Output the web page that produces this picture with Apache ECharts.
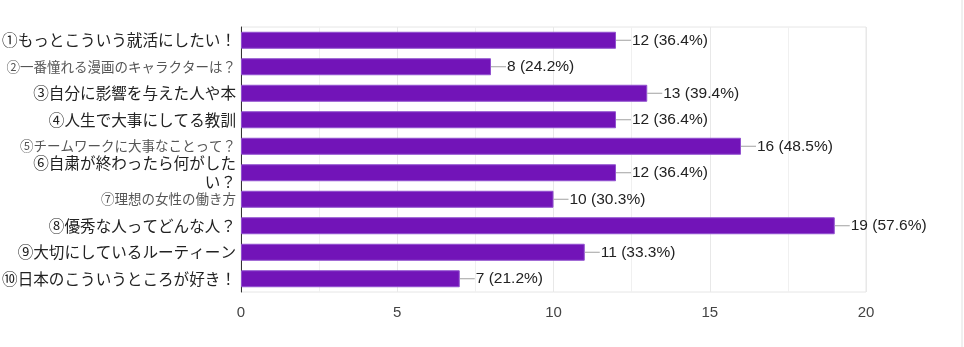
<!DOCTYPE html>
<html><head><meta charset="utf-8">
<script src="https://cdn.jsdelivr.net/npm/echarts@6/dist/echarts.min.js"></script>
<style>html,body{margin:0;padding:0;background:#fff}#c{width:964px;height:347px}</style>
</head><body><div id="c"></div>
<script>
var categories = [
  '①もっとこういう就活にしたい！',
  '②一番憧れる漫画のキャラクターは？',
  '③自分に影響を与えた人や本',
  '④人生で大事にしてる教訓',
  '⑤チームワークに大事なことって？',
  '⑥自粛が終わったら何がしたい？',
  '⑦理想の女性の働き方',
  '⑧優秀な人ってどんな人？',
  '⑨大切にしているルーティーン',
  '⑩日本のこういうところが好き！'
];
var counts = [12, 8, 13, 12, 16, 12, 10, 19, 11, 7];
var percents = ['36.4', '24.2', '39.4', '36.4', '48.5', '36.4', '30.3', '57.6', '33.3', '21.2'];
var smallLabels = [1, 4, 6];
var xTicks = [0, 5, 10, 15, 20];

var chart = echarts.init(document.getElementById('c'));
var FONT = '"Noto Sans CJK JP", "Noto Sans", sans-serif';
var LAT = '"Liberation Sans", Arial, sans-serif';
chart.setOption({
  animation: false,
  textStyle: {fontFamily: FONT},
  grid: {left: 241, right: 98, top: 27, bottom: 55, show: true, borderColor: '#e6e6e6', borderWidth: 1,
         outerBoundsMode: 'none', containLabel: false},
  xAxis: {
    type: 'value', min: xTicks[0], max: xTicks[xTicks.length - 1], interval: 5,
    axisLine: {show: false}, axisTick: {show: false},
    axisLabel: {color: '#444', fontSize: 15, margin: 13, fontFamily: LAT},
    splitLine: {lineStyle: {color: '#e8e8e8'}},
    minorTick: {show: false, splitNumber: 2},
    minorSplitLine: {show: true, lineStyle: {color: '#f0f0f0'}}
  },
  yAxis: {
    type: 'category', inverse: true, data: categories,
    axisLine: {show: true, lineStyle: {color: '#333', width: 1}},
    axisTick: {show: false},
    axisLabel: {
      margin: 5,
      formatter: function (v, i) {
        if (smallLabels.indexOf(i) >= 0) return '{s|' + v + '}';
        if (i === 5) return '{b|' + v.slice(0, 13) + '}\n{b|' + v.slice(13) + '}';
        return '{b|' + v + '}';
      },
      rich: {
        b: {fontSize: 15.6, color: '#222', lineHeight: 19, fontFamily: FONT},
        s: {fontSize: 13.5, color: '#555', fontFamily: FONT}
      }
    }
  },
  series: [{
    type: 'bar', data: counts, barWidth: 17,
    itemStyle: {color: '#7214b8', borderColor: '#9150cf', borderWidth: 1},
    label: {
      show: true, position: 'right', distance: 0,
      formatter: function (p) { return '{l|}{t|' + p.value + ' (' + percents[p.dataIndex] + '%)}'; },
      rich: {
        l: {width: 15, height: 1, backgroundColor: '#a0a0a0'},
        t: {fontSize: 15.5, color: '#222', padding: [0, 0, 0, 1], fontFamily: LAT}
      }
    }
  }],
  graphic: [{type: 'line', shape: {x1: 962, y1: 0, x2: 962, y2: 347}, style: {stroke: '#e0e0e0', lineWidth: 1}}]
});
</script></body></html>
